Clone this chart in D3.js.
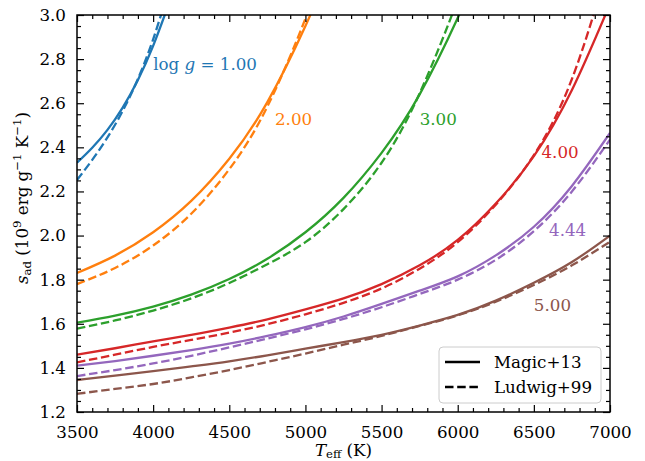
<!DOCTYPE html>
<html>
<head>
<meta charset="utf-8">
<script src="https://cdn.jsdelivr.net/npm/d3@7"></script>
<style>
  body { margin: 0; background: #fff; }
  text { font-family: "DejaVu Serif", serif; fill: #000; }
</style>
</head>
<body>
<svg id="chart" width="645" height="461"></svg>
<script>
// values (s_ad in 1e9 erg/g/K vs Teff in K)
var teff1 = [3500, 3600, 3700, 3800, 3900, 4000, 4100];
var magic1 = [2.33, 2.398, 2.479, 2.58, 2.705, 2.86, 3.045];
var ludwig1 = [2.252, 2.343, 2.445, 2.565, 2.71, 2.89, 3.11];

var teff2 = [3500, 3750, 4000, 4250, 4500, 4750, 5000, 5100];
var magic2 = [1.83, 1.909, 2.015, 2.157, 2.348, 2.605, 2.95, 3.12];
var ludwig2 = [1.78, 1.853, 1.955, 2.099, 2.301, 2.585, 2.984, 3.186];

var teff3 = [3500, 3750, 4000, 4250, 4500, 4750, 5000, 5250, 5500, 5750, 6000, 6100];
var magic3 = [1.605, 1.637, 1.678, 1.732, 1.803, 1.895, 2.015, 2.171, 2.375, 2.64, 2.986, 3.15];
var ludwig3 = [1.578, 1.615, 1.66, 1.715, 1.785, 1.87, 1.97, 2.12, 2.33, 2.645, 3.07, 3.28];

var teff4 = [3500, 3750, 4000, 4250, 4500, 4750, 5000, 5250, 5500, 5750, 6000, 6250, 6500, 6750, 7000];
var magic4 = [1.46, 1.489, 1.52, 1.55, 1.583, 1.62, 1.665, 1.715, 1.78, 1.865, 1.98, 2.145, 2.36, 2.66, 3.05];
var ludwig4 = [1.425, 1.46, 1.495, 1.527, 1.56, 1.598, 1.643, 1.695, 1.76, 1.85, 1.97, 2.14, 2.365, 2.71, 3.25];

var teff5 = [3500, 3750, 4000, 4250, 4500, 4750, 5000, 5250, 5500, 5750, 6000, 6250, 6500, 6750, 7000];
var magic5 = [1.41, 1.431, 1.455, 1.481, 1.51, 1.545, 1.585, 1.633, 1.69, 1.75, 1.815, 1.91, 2.04, 2.225, 2.465];
var ludwig5 = [1.363, 1.39, 1.42, 1.455, 1.493, 1.533, 1.575, 1.622, 1.675, 1.735, 1.80, 1.89, 2.02, 2.20, 2.435];

var teff6 = [3500, 3750, 4000, 4250, 4500, 4750, 5000, 5250, 5500, 5750, 6000, 6250, 6500, 6750, 7000];
var magic6 = [1.345, 1.365, 1.385, 1.407, 1.43, 1.457, 1.487, 1.517, 1.55, 1.592, 1.64, 1.705, 1.786, 1.88, 2.0];
var ludwig6 = [1.282, 1.305, 1.327, 1.357, 1.39, 1.427, 1.465, 1.505, 1.545, 1.59, 1.638, 1.70, 1.776, 1.865, 1.972];

var loggLabels = ["1.00", "2.00", "3.00", "4.00", "4.44", "5.00"];
var colors = ["#1f77b4", "#ff7f0e", "#2ca02c", "#d62728", "#9467bd", "#8c564b"];
// label anchor points, in data units
var labelAt = [[4000, 2.75], [4800, 2.5], [5750, 2.5], [6550, 2.35], [6600, 2.0], [6500, 1.66]];

var xTicks = [3500, 4000, 4500, 5000, 5500, 6000, 6500, 7000];
var yTicks = [1.2, 1.4, 1.6, 1.8, 2.0, 2.2, 2.4, 2.6, 2.8, 3.0];
var legendNames = ["Magic+13", "Ludwig+99"];

var teffs = [teff1, teff2, teff3, teff4, teff5, teff6];
var magics = [magic1, magic2, magic3, magic4, magic5, magic6];
var ludwigs = [ludwig1, ludwig2, ludwig3, ludwig4, ludwig5, ludwig6];

var m = {left: 77, right: 610, top: 15, bottom: 412};
var svg = d3.select("#chart");

var x = d3.scaleLinear().domain([3500, 7000]).range([m.left, m.right]);
var y = d3.scaleLinear().domain([1.2, 3.0]).range([m.bottom, m.top]);

svg.append("defs").append("clipPath").attr("id", "clip")
  .append("rect").attr("x", m.left).attr("y", m.top)
  .attr("width", m.right - m.left).attr("height", m.bottom - m.top);

var line = d3.line()
  .x(function (d) { return x(d[0]); })
  .y(function (d) { return y(d[1]); })
  .curve(d3.curveNatural);

var plot = svg.append("g").attr("clip-path", "url(#clip)");
var LW = 2.3, DASH = "8.5,3.7";
for (var i = 0; i < 6; i++) {
  plot.append("path").attr("d", line(d3.zip(teffs[i], magics[i])))
    .attr("fill", "none").attr("stroke", colors[i]).attr("stroke-width", LW);
  plot.append("path").attr("d", line(d3.zip(teffs[i], ludwigs[i])))
    .attr("fill", "none").attr("stroke", colors[i]).attr("stroke-width", LW)
    .attr("stroke-dasharray", DASH);
}

// curve labels
for (var i = 0; i < 6; i++) {
  var t = svg.append("text")
    .attr("x", x(labelAt[i][0])).attr("y", y(labelAt[i][1]))
    .style("font-size", "16.7px").style("fill", colors[i]);
  if (i === 0) {
    t.append("tspan").text("log ");
    t.append("tspan").style("font-style", "italic").text("g");
    t.append("tspan").text(" = " + loggLabels[i]);
  } else {
    t.text(loggLabels[i]);
  }
}

// axes: ticks inward on all four sides
function addAxis(axis, tr, vals, size, fmt, pad) {
  var g = svg.append("g").attr("transform", tr)
    .call(axis.tickValues(vals).tickSize(size).tickSizeOuter(0).tickPadding(pad).tickFormat(fmt));
  g.select(".domain").remove();
  g.selectAll("line").attr("stroke", "#000").attr("stroke-width", 1.2);
  g.selectAll("text").style("font-size", "16.7px").attr("font-family", null);
  return g;
}
var xMinor = d3.range(3500, 7001, 100).filter(function (v) { return v % 500 !== 0; });
var yMinor = d3.range(1.2, 3.001, 0.05).filter(function (v) { return Math.abs(Math.round(v * 5) - v * 5) > 0.01; });
var noLab = function () { return ""; };

addAxis(d3.axisBottom(x), "translate(0," + m.bottom + ")", xTicks, -7, d3.format("d"), 14);
addAxis(d3.axisBottom(x), "translate(0," + m.bottom + ")", xMinor, -4, noLab, 0);
addAxis(d3.axisTop(x), "translate(0," + m.top + ")", xTicks, -7, noLab, 0);
addAxis(d3.axisTop(x), "translate(0," + m.top + ")", xMinor, -4, noLab, 0);
addAxis(d3.axisLeft(y), "translate(" + m.left + ",0)", yTicks, -7, d3.format(".1f"), 11);
addAxis(d3.axisLeft(y), "translate(" + m.left + ",0)", yMinor, -4, noLab, 0);
addAxis(d3.axisRight(y), "translate(" + m.right + ",0)", yTicks, -7, noLab, 0);
addAxis(d3.axisRight(y), "translate(" + m.right + ",0)", yMinor, -4, noLab, 0);

svg.append("rect").attr("x", m.left).attr("y", m.top)
  .attr("width", m.right - m.left).attr("height", m.bottom - m.top)
  .attr("fill", "none").attr("stroke", "#000").attr("stroke-width", 1.5);

// axis titles
var xl = svg.append("text").attr("x", (m.left + m.right) / 2).attr("y", 456)
  .attr("text-anchor", "middle").style("font-size", "16.7px");
xl.append("tspan").style("font-style", "italic").text("T");
xl.append("tspan").attr("dy", 2).style("font-size", "11.7px").text("eff");
xl.append("tspan").attr("dy", -2).text(" (K)");

var yl = svg.append("text")
  .attr("transform", "translate(28,198) rotate(-90)")
  .attr("text-anchor", "middle").style("font-size", "16.7px");
yl.append("tspan").style("font-style", "italic").text("s");
yl.append("tspan").attr("dy", 3).style("font-size", "11.7px").text("ad");
yl.append("tspan").attr("dy", -3).text(" (10");
yl.append("tspan").attr("dy", -7).style("font-size", "11.7px").text("9");
yl.append("tspan").attr("dy", 7).text(" erg g");
yl.append("tspan").attr("dy", -7).style("font-size", "11.7px").text("\u22121");
yl.append("tspan").attr("dy", 7).text(" K");
yl.append("tspan").attr("dy", -7).style("font-size", "11.7px").text("\u22121");
yl.append("tspan").attr("dy", 7).text(")");

// legend
var lg = svg.append("g");
lg.append("rect").attr("x", 439).attr("y", 347).attr("width", 162).attr("height", 56)
  .attr("rx", 4).attr("fill", "#fff").attr("fill-opacity", 0.8)
  .attr("stroke", "#ccc").attr("stroke-width", 1);
legendNames.forEach(function (name, k) {
  var yy = 362 + k * 25;
  lg.append("line").attr("x1", 445).attr("x2", 480).attr("y1", yy).attr("y2", yy)
    .attr("stroke", "#000").attr("stroke-width", LW)
    .attr("stroke-dasharray", k === 1 ? DASH : null);
  lg.append("text").attr("x", 494).attr("y", yy + 6).style("font-size", "16.7px").text(name);
});
</script>
</body>
</html>
